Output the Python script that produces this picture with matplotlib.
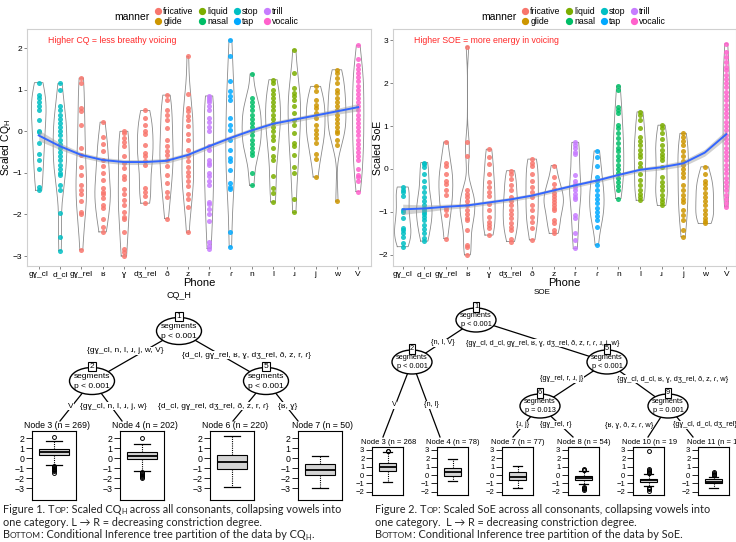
import numpy as np
import matplotlib
matplotlib.use("Agg")
import matplotlib.pyplot as plt
from matplotlib.patches import Ellipse
from matplotlib.lines import Line2D

# CONFIG
W, H = 736, 542
SANS = ['Liberation Sans', 'DejaVu Sans']
CAPTION = ['Lato', 'DejaVu Sans']
plt.rcParams['font.family'] = SANS

# ---- data ----
phones = ["gɣ_cl", "d_cl", "gɣ_rel", "ʁ", "ɣ", "dʒ_rel", "ð", "z", "r", "ɾ",
          "n", "l", "ɹ", "j", "w", "V"]
manner_of = ["stop", "stop", "fricative", "fricative", "fricative", "fricative",
             "fricative", "fricative", "trill", "tap", "nasal", "liquid",
             "liquid", "glide", "glide", "vocalic"]
manners = ["fricative", "glide", "liquid", "nasal", "stop", "tap", "trill", "vocalic"]
manner_colors = ["#F8766D", "#CD9600", "#7CAE00", "#00BE67",
                 "#00BFC4", "#00A9FF", "#C77CFF", "#FF61CC"]

cq_points = {
    "gɣ_cl": [1.17, 0.88, 0.8, 0.7, 0.6, 0.52, 0.28, 0.0, -0.02, -0.28, -0.55, -0.68, -0.9, -1.33, -1.42],
    "d_cl": [1.15, 1.0, 0.6, 0.5, 0.4, 0.3, 0.2, 0.1, 0.0, -0.1, -0.2, -0.3, -0.4, -0.5, -0.6,
             -0.7, -0.8, -0.9, -1.0, -1.05, -1.3, -1.42, -1.97, -2.55, -2.87],
    "gɣ_rel": [1.28, 1.15, 0.55, 0.48, 0.15, -0.4, -0.57, -0.87, -1.05, -1.3, -1.42, -1.5,
               -1.68, -1.95, -2.0, -2.85],
    "ʁ": [0.22, -0.14, -0.3, -0.48, -0.68, -0.84, -1.0, -1.16, -1.37, -1.45, -1.52, -1.6,
          -1.77, -1.85, -2.1, -2.3, -2.42],
    "ɣ": [0.0, -0.05, -0.15, -0.25, -0.35, -0.6, -0.77, -0.88, -1.08, -1.15, -1.4, -1.5,
          -1.65, -1.78, -1.95, -2.05, -2.12, -2.42, -2.82, -2.9, -3.0],
    "dʒ_rel": [0.5, 0.32, 0.16, 0.0, -0.06, -0.32, -0.52, -0.6, -0.72, -0.8, -1.37, -1.45,
               -1.55, -1.73],
    "ð": [0.87, 0.76, 0.52, 0.4, 0.28, 0.08, -0.2, -0.36, -0.48, -0.56, -0.68, -0.84,
          -1.05, -1.25, -1.45, -1.57, -2.1],
    "z": [1.8, 0.9, 0.55, 0.48, 0.36, 0.28, 0.12, -0.06, -0.2, -0.45, -0.6, -0.72, -0.85,
          -0.97, -1.08, -1.2, -1.32, -1.5, -1.62, -1.83, -2.43],
    "r": [0.85, 0.8, 0.75, 0.7, 0.6, 0.5, 0.32, 0.22, 0.1, 0.0, -0.36, -0.46, -0.7, -0.77,
          -0.82, -1.0, -1.08, -1.2, -1.28, -1.7, -1.75, -1.86, -1.98, -2.15, -2.67, -2.75, -2.82],
    "ɾ": [2.2, 1.8, 1.2, 0.96, 0.84, 0.76, 0.32, 0.16, 0.04, -0.2, -0.45, -0.65, -0.72,
          -0.93, -1.25, -1.33, -1.4, -2.42, -2.78],
    "n": [1.38, 0.8, 0.7, 0.6, 0.5, 0.4, 0.3, 0.2, 0.1, 0.0, -0.1, -0.2, -0.3, -0.4, -0.5,
          -0.56, -1.0, -1.3],
    "l": [1.24, 1.15, 1.0, 0.9, 0.8, 0.7, 0.6, 0.5, 0.4, 0.3, 0.2, 0.1, 0.0, -0.12, -0.2,
          -0.4, -0.6, -0.68, -1.08, -1.37, -1.48, -1.7],
    "ɹ": [1.96, 1.4, 1.04, 0.92, 0.84, 0.76, 0.6, 0.44, 0.28, 0.16, -0.04, -0.28, -0.35,
          -0.58, -0.86, -1.0, -1.62, -1.95],
    "j": [1.08, 0.96, 0.76, 0.64, 0.56, 0.44, 0.32, 0.16, 0.04, -0.06, -0.16, -0.28, -0.54,
          -0.67, -1.1],
    "w": [1.48, 1.4, 1.28, 1.16, 1.0, 0.92, 0.8, 0.7, 0.6, 0.5, 0.4, 0.3, 0.2, 0.1, 0.0,
          -0.04, -0.2, -0.32, -1.68],
    "V": [2.07, 1.75, 1.6, 1.5, 1.4, 1.3, 1.2, 1.1, 1.0, 0.9, 0.8, 0.7, 0.6, 0.5, 0.4, 0.3,
          0.2, 0.1, 0.0, -0.1, -0.2, -0.3, -0.4, -0.5, -0.6, -0.7, -0.9, -1.05, -1.1, -1.2, -1.45],
}
cq_smooth = [-0.1, -0.36, -0.57, -0.69, -0.74, -0.74, -0.71, -0.57, -0.36, -0.16,
             0.02, 0.18, 0.28, 0.38, 0.48, 0.58]
cq_band = [0.13, 0.08, 0.06, 0.06, 0.06, 0.06, 0.06, 0.06, 0.06, 0.06,
           0.06, 0.06, 0.06, 0.06, 0.07, 0.09]

soe_points = {
    "gɣ_cl": [-0.42, -0.5, -0.54, -0.62, -0.96, -1.0, -1.15, -1.38, -1.42, -1.5, -1.58, -1.73, -1.81],
    "d_cl": [0.15, 0.12, 0.04, -0.12, -0.27, -0.42, -0.54, -0.65, -0.75, -0.85, -0.9, -0.95,
             -1.0, -1.05, -1.12, -1.2, -1.3, -1.4, -1.5, -1.6, -1.68],
    "gɣ_rel": [0.63, 0.15, 0.08, -0.12, -0.27, -0.35, -0.5, -0.6, -0.92, -0.96, -1.08, -1.62],
    "ʁ": [2.85, 0.63, 0.31, -0.5, -0.58, -0.65, -0.75, -0.85, -0.95, -1.05, -1.15, -1.2,
          -1.42, -1.77, -1.82, -2.0],
    "ɣ": [0.46, 0.27, 0.12, -0.12, -0.31, -0.42, -0.54, -0.62, -0.81, -0.96, -1.12, -1.23,
          -1.31, -1.38, -1.54],
    "dʒ_rel": [-0.04, -0.12, -0.23, -0.38, -0.5, -0.65, -0.75, -0.85, -0.95, -1.05, -1.15,
               -1.25, -1.35, -1.42, -1.62, -1.69],
    "ð": [0.23, 0.15, 0.08, -0.12, -0.27, -0.42, -0.54, -0.65, -0.85, -0.96, -1.12, -1.23,
          -1.38, -1.65],
    "z": [0.08, -0.19, -0.35, -0.46, -0.55, -0.62, -0.7, -0.78, -0.85, -0.92, -0.96, -1.2,
          -1.27, -1.42, -1.5],
    "r": [0.62, 0.55, 0.48, 0.4, 0.35, -0.15, -0.27, -0.35, -0.42, -0.5, -0.58, -0.65, -0.69,
          -1.08, -1.15, -1.5, -1.65, -1.85],
    "ɾ": [0.42, 0.27, 0.08, -0.19, -0.27, -0.38, -0.5, -0.6, -0.7, -0.8, -0.9, -1.0, -1.1,
          -1.2, -1.35, -1.77],
    "n": [1.93, 1.85, 1.45, 1.37, 1.3, 1.02, 0.95, 0.83, 0.72, 0.6, 0.5, 0.42, 0.3, 0.2, 0.1,
          0.0, -0.1, -0.2, -0.3, -0.4, -0.5, -0.69],
    "l": [1.33, 1.25, 1.13, 0.95, 0.75, 0.65, 0.55, 0.45, 0.35, 0.27, 0.15, 0.05, -0.12,
          -0.25, -0.38, -0.5, -0.58, -0.65, -0.73],
    "ɹ": [1.02, 0.95, 0.83, 0.7, 0.55, 0.45, 0.35, 0.27, 0.2, 0.04, -0.19, -0.3, -0.4, -0.5,
          -0.6, -0.7, -0.78, -0.85],
    "j": [0.83, 0.75, 0.65, 0.55, 0.42, 0.31, 0.19, 0.1, 0.0, -0.1, -0.19, -0.38, -0.5, -0.6,
          -0.7, -0.77, -0.96, -1.08, -1.2, -1.42, -1.58],
    "w": [0.05, -0.12, -0.27, -0.35, -0.45, -0.55, -0.65, -0.75, -0.85, -0.95, -1.05, -1.15,
          -1.22, -1.27],
    "V": [2.92, 2.73, 2.6, 2.48, 2.38, 2.3, 2.2, 2.1, 2.0, 1.9, 1.8, 1.7, 1.6, 1.5, 1.4, 1.3,
          1.2, 1.1, 1.0, 0.9, 0.8, 0.7, 0.6, 0.5, 0.4, 0.3, 0.2, 0.1, 0.0, -0.1, -0.2, -0.3,
          -0.4, -0.5, -0.6, -0.69, -0.8, -0.88],
}
soe_smooth = [-0.94, -0.92, -0.88, -0.85, -0.78, -0.71, -0.62, -0.5, -0.38, -0.27,
              -0.14, -0.02, 0.04, 0.13, 0.38, 0.81]
soe_band = [0.12, 0.08, 0.06, 0.05, 0.05, 0.05, 0.05, 0.05, 0.05, 0.05,
            0.05, 0.05, 0.06, 0.07, 0.08, 0.1]

# leaf boxplots (conditional inference trees)
cq_leaf_titles = ["Node 3 (n = 269)", "Node 4 (n = 202)", "Node 6 (n = 220)", "Node 7 (n = 50)"]
cq_leaf_q1 = [0.27, -0.13, -1.07, -1.73]
cq_leaf_med = [0.6, 0.22, -0.4, -1.23]
cq_leaf_q3 = [0.9, 0.62, 0.27, -0.57]
cq_leaf_lo = [-0.72, -1.33, -2.9, -2.97]
cq_leaf_hi = [1.72, 1.45, 2.17, 0.2]
cq_leaf_out = [[2.07, -0.78, -0.85, -0.9, -1.0, -1.05, -1.1, -1.2, -1.3, -1.45],
               [2.0, -1.4, -1.5, -1.6, -1.7, -1.8, -1.9, -2.0],
               [], []]

soe_leaf_titles = ["Node 3 (n = 268)", "Node 4 (n = 78)", "Node 7 (n = 77)",
                   "Node 8 (n = 54)", "Node 10 (n = 197)", "Node 11 (n = 110)"]
soe_leaf_q1 = [0.48, -0.12, -0.55, -0.6, -0.84, -1.0]
soe_leaf_med = [1.0, 0.4, -0.25, -0.4, -0.64, -0.8]
soe_leaf_q3 = [1.48, 0.88, 0.4, -0.12, -0.44, -0.52]
soe_leaf_lo = [-0.8, -0.72, -1.55, -1.05, -1.32, -1.6]
soe_leaf_hi = [2.76, 1.88, 1.05, 0.5, 0.08, -0.24]
soe_leaf_out = [[2.92, 2.85], [], [],
                [0.72, 0.65, 0.6, -1.4, -1.5, -1.6, -1.7, -1.85],
                [2.88, 0.75, 0.6, 0.5, 0.4, 0.3, 0.2, -1.5, -1.6, -1.7, -1.9],
                [0.36, 0.25, 0.15, 0.05, -0.05]]

fig = plt.figure(figsize=(W / 100, H / 100), dpi=100)


def px_axes(x0, y0, x1, y1):
    return fig.add_axes([x0 / W, 1 - y1 / H, (x1 - x0) / W, (y1 - y0) / H])


def draw_violins(ax, groups, half=0.45):
    dens = []
    for vals in groups:
        v = np.asarray(vals, float)
        iqr = np.subtract(*np.percentile(v, [75, 25]))
        bw = 0.9 * min(v.std(ddof=1), iqr / 1.34) * len(v) ** -0.2
        g = np.linspace(v.min(), v.max(), 200)
        d = np.exp(-0.5 * ((g[:, None] - v[None, :]) / bw) ** 2).sum(1) / (len(v) * bw * np.sqrt(2 * np.pi))
        dens.append((g, d))
    mx = max(d.max() for _, d in dens)
    for i, (g, d) in enumerate(dens):
        w = d / mx * half
        xs = np.r_[i - w, (i + w)[::-1], i - w[0]]
        ys = np.r_[g, g[::-1], g[0]]
        ax.plot(xs, ys, color='#8a8a8a', lw=0.6, zorder=2)


def top_panel(ax, points, smooth, band, xlim, ylim, yticks, note, ylabel, ylab_x):
    groups = [points[p] for p in phones]
    draw_violins(ax, groups)
    cmap = dict(zip(manners, manner_colors))
    for i, (p, m) in enumerate(zip(phones, manner_of)):
        ax.scatter(np.full(len(points[p]), i), points[p], s=13, color=cmap[m],
                   alpha=0.85, lw=0, zorder=3)
    x = np.arange(len(phones))
    sm, bd = np.array(smooth), np.array(band)
    ax.fill_between(x, sm - bd, sm + bd, color='#999999', alpha=0.45, lw=0, zorder=4)
    ax.plot(x, sm, color='#3366FF', lw=1.4, zorder=5)
    ax.set_xlim(*xlim)
    ax.set_ylim(*ylim)
    ax.set_xticks(x)
    ax.set_xticklabels(phones)
    ax.set_yticks(yticks)
    ax.tick_params(labelsize=6, length=2, width=0.5, color='#555555', pad=1.5)
    for s in ax.spines.values():
        s.set_color('#d0d0d0')
        s.set_linewidth(0.8)
    ax.text(0.06, 0.95, note, transform=ax.transAxes, color='#FF2A2A', fontsize=6.3,
            va='center', ha='left')
    ax.set_xlabel("Phone", fontsize=8, labelpad=0)
    ax.set_ylabel(ylabel, fontsize=7.5)
    ax.yaxis.set_label_coords(ylab_x, 0.5)


ax1 = px_axes(27, 29, 371, 266)
top_panel(ax1, cq_points, cq_smooth, cq_band, (-0.55, 15.6), (-3.24, 2.46),
          [-3, -2, -1, 0, 1, 2], "Higher CQ = less breathy voicing",
          r"Scaled CQ$_\mathregular{H}$", -0.041)
ax2 = px_axes(393, 29, 736, 266)
top_panel(ax2, soe_points, soe_smooth, soe_band, (-0.45, 15.45), (-2.26, 3.26),
          [-2, -1, 0, 1, 2, 3], "Higher SOE = more energy in voicing", "Scaled SoE", -0.03)

# legends
handles = [Line2D([], [], marker='o', ls='', color=c, markersize=4.2) for c in manner_colors]
for title_x, key_x in [(150, 155), (517, 522)]:
    fig.text(title_x / W, 1 - 16.5 / H, "manner", fontsize=7.5, ha='right', va='center')
    fig.legend(handles, manners, ncol=4, loc='center left', frameon=False,
               bbox_to_anchor=(key_x / W, 1 - 16.5 / H), fontsize=6.3,
               handlelength=0.7, handletextpad=0.25, columnspacing=0.6,
               labelspacing=0.15, borderpad=0, borderaxespad=0)

# ---- trees ----
ov = fig.add_axes([0, 0, 1, 1])
ov.set_xlim(0, W)
ov.set_ylim(H, 0)
ov.axis('off')


def tree_node(x, y, num, w, h, fs, ptxt="p < 0.001"):
    ov.add_patch(Ellipse((x, y), w, h, fc='white', ec='black', lw=1.0, zorder=3))
    ov.text(x, y - h * 0.18, "segments", ha='center', va='center', fontsize=fs, zorder=4)
    ov.text(x, y + h * 0.2, ptxt, ha='center', va='center', fontsize=fs, zorder=4)
    ov.text(x, y - h / 2 - 1, str(num), ha='center', va='center', fontsize=fs, zorder=5,
            bbox=dict(boxstyle='square,pad=0.15', fc='white', ec='black', lw=0.8))


def edge(p, q, label, lpos, fs):
    ov.plot([p[0], q[0]], [p[1], q[1]], color='black', lw=0.9, zorder=1)
    ov.text(lpos[0], lpos[1], label, ha='center', va='center', fontsize=fs, zorder=2,
            bbox=dict(boxstyle='square,pad=0.05', fc='white', ec='none'))


# left tree (CQ_H)
fs_l = 6.0
ov.text(179, 295, "CQ_H", ha='center', va='center', fontsize=6.5)
n1, n2, n5 = (179, 331), (92, 381), (266, 381)
edge(n1, n2, "{gɣ_cl, n, l, ɹ, j, w, V}", (125, 351), fs_l)
edge(n1, n5, "{d_cl, gɣ_rel, ʁ, ɣ, dʒ_rel, ð, z, r, ɾ}", (246, 355), fs_l)
edge(n2, (60, 421), "V", (71, 406), fs_l)
edge(n2, (122, 421), "{gɣ_cl, n, l, ɹ, j, w}", (113, 406), fs_l)
edge(n5, (233, 421), "{d_cl, gɣ_rel, dʒ_rel, ð, z, r, ɾ}", (213, 406), fs_l)
edge(n5, (298, 421), "{ʁ, ɣ}", (288, 406), fs_l)
for pos, num in [(n1, 1), (n2, 2), (n5, 5)]:
    tree_node(pos[0], pos[1], num, 45, 27, fs_l)

# right tree (SOE)
fs_r = 5.3
ov.text(542, 292, "SOE", ha='center', va='center', fontsize=5.8)
m1, m2, m5, m6, m9 = (476, 320), (412, 362), (607, 362), (540, 406), (668, 406)
edge(m1, m2, "{n, l, V}", (443, 343), fs_r)
edge(m1, m5, "{gɣ_cl, d_cl, gɣ_rel, ʁ, ɣ, dʒ_rel, ð, z, r, ɾ, ɹ, j, w}", (543, 343), fs_r)
edge(m2, (383, 437), "V", (394, 405), fs_r)
edge(m2, (440, 437), "{n, l}", (431, 405), fs_r)
edge(m5, m6, "{gɣ_rel, r, ɹ, j}", (562, 379), fs_r)
edge(m5, m9, "{gɣ_cl, d_cl, ʁ, ɣ, dʒ_rel, ð, z, ɾ, w}", (673, 379), fs_r)
edge(m6, (513, 437), "{ɹ, j}", (523, 425), fs_r)
edge(m6, (573, 437), "{gɣ_rel, r}", (556, 425), fs_r)
edge(m9, (648, 437), "{ʁ, ɣ, ð, z, ɾ, w}", (629, 425), fs_r)
edge(m9, (693, 437), "{gɣ_cl, d_cl, dʒ_rel}", (705, 425), fs_r)
for pos, num, pt in [(m1, 1, "p < 0.001"), (m2, 2, "p < 0.001"), (m5, 5, "p < 0.001"),
                     (m6, 6, "p = 0.013"), (m9, 9, "p = 0.001")]:
    tree_node(pos[0], pos[1], num, 40, 24, fs_r, pt)


def leaf(x0, y0, x1, y1, stats, ylim, yticks, fs, bw):
    ax = px_axes(x0, y0, x1, y1)
    ax.bxp([stats], positions=[0], widths=bw, patch_artist=True,
           boxprops=dict(facecolor='#D3D3D3', edgecolor='black', lw=0.8),
           medianprops=dict(color='black', lw=1.3),
           whiskerprops=dict(ls=(0, (1, 1)), lw=0.8, color='black'),
           capprops=dict(lw=0.9, color='black'),
           flierprops=dict(marker='o', ms=2.8, mfc='none', mec='black', mew=0.7))
    ax.set_xlim(-0.5, 0.5)
    ax.set_ylim(*ylim)
    ax.set_xticks([])
    ax.set_yticks(yticks)
    ax.tick_params(axis='y', labelsize=fs, length=4, width=0.6, pad=1.5)
    for s in ax.spines.values():
        s.set_linewidth(0.8)
    return ax


def box_stats(i, q1, med, q3, lo, hi, out):
    return dict(q1=q1[i], med=med[i], q3=q3[i], whislo=lo[i], whishi=hi[i], fliers=out[i])


for i, x0 in enumerate([32, 120, 210, 298]):
    st = box_stats(i, cq_leaf_q1, cq_leaf_med, cq_leaf_q3, cq_leaf_lo, cq_leaf_hi, cq_leaf_out)
    leaf(x0, 431, x0 + 44, 500, st, (-4.2, 2.7), [-3, -2, -1, 0, 1, 2], 6.3, 0.7)
    fig.text((x0 + 25) / W, 1 - 426 / H, cq_leaf_titles[i], fontsize=6.3, ha='center', va='center')

for i, x0 in enumerate([372, 437, 502, 568, 633, 698]):
    st = box_stats(i, soe_leaf_q1, soe_leaf_med, soe_leaf_q3, soe_leaf_lo, soe_leaf_hi, soe_leaf_out)
    leaf(x0, 447, x0 + 31, 495, st, (-2.4, 3.36), [-2, -1, 0, 1, 2, 3], 5.5, 0.55)
    # title clipped to its own viewport, as in the reference
    cax = px_axes(x0 - 14, 436, x0 + 44, 448)
    cax.axis('off')
    cax.text(3 / 58, 0.5, soe_leaf_titles[i], transform=cax.transAxes,
             fontsize=5.5, ha='left', va='center', clip_on=True)

# ---- captions ----
renderer = fig.canvas.get_renderer()


def runs_text(x_px, y_px, runs):
    x = x_px
    for s, size, dy in runs:
        t = fig.text(x / W, 1 - (y_px + dy) / H, s, fontsize=size, family=CAPTION,
                     va='baseline', ha='left', color='#222222')
        x += t.get_window_extent(renderer=renderer).width


F, SC, SUB = 7.8, 6.0, 5.3
runs_text(3, 513, [("Figure 1. ", F, 0), ("T", F, 0), ("OP", SC, 0), (": Scaled CQ", F, 0),
                   ("H", SUB, 1.5), (" across all consonants, collapsing vowels into", F, 0)])
runs_text(3, 526, [("one category. L → R = decreasing constriction degree.", F, 0)])
runs_text(3, 538, [("B", F, 0), ("OTTOM", SC, 0),
                   (": Conditional Inference tree partition of the data by CQ", F, 0),
                   ("H", SUB, 1.5), (".", F, 0)])
runs_text(375, 513, [("Figure 2. ", F, 0), ("T", F, 0), ("OP", SC, 0),
                     (": Scaled SoE across all consonants, collapsing vowels into", F, 0)])
runs_text(375, 526, [("one category.  L → R = decreasing constriction degree.", F, 0)])
runs_text(375, 538, [("B", F, 0), ("OTTOM", SC, 0),
                     (": Conditional Inference tree partition of the data by SoE.", F, 0)])

fig.savefig("out.png", dpi=100)
